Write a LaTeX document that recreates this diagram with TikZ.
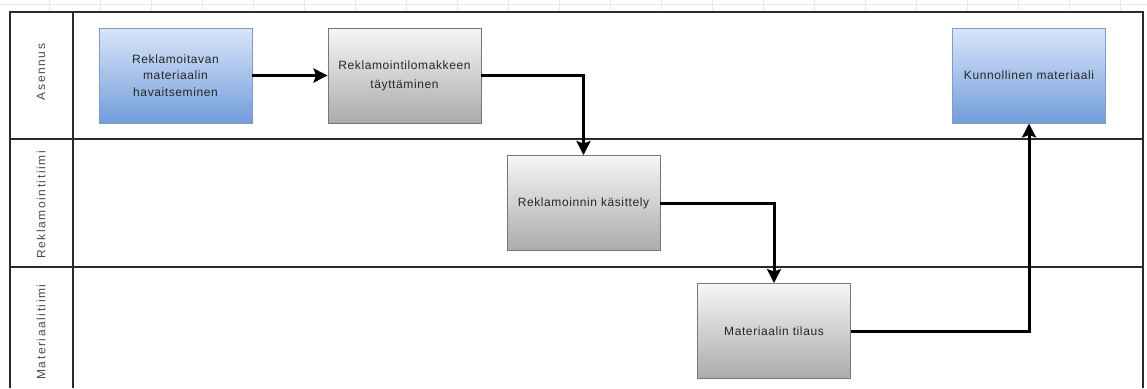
\documentclass[tikz,border=0pt]{standalone}
\usepackage{fontspec}
\setmainfont{Liberation Sans}
\newfontfamily\boxfont[LetterSpace=5]{Liberation Sans}
\newfontfamily\lanefont[LetterSpace=13]{Liberation Sans}
\usetikzlibrary{arrows.meta}
\definecolor{txt}{HTML}{262626}
\definecolor{lanetxt}{HTML}{4A4A4A}
\definecolor{bluetop}{HTML}{D8E6F9}
\definecolor{bluebot}{HTML}{739DDA}
\definecolor{blueedge}{HTML}{7F9CC6}
\definecolor{graytop}{HTML}{F6F6F6}
\definecolor{graybot}{HTML}{ABABAB}
\definecolor{grayedge}{HTML}{777777}
\definecolor{framec}{HTML}{2A2A2A}
\tikzset{
  procbox/.style={rectangle, inner sep=0pt, minimum width=153pt, minimum height=95pt,
    align=center, text=txt, font=\boxfont\fontsize{12}{16.5}\selectfont, line width=0.9pt},
  bluebox/.style={procbox, draw=blueedge, top color=bluetop, bottom color=bluebot},
  graybox/.style={procbox, draw=grayedge, top color=graytop, bottom color=graybot},
  flow/.style={line width=3pt, black, -{Stealth[length=14pt,width=14pt,inset=2.5pt]}},
  lanelabel/.style={rotate=90, text=lanetxt, font=\lanefont\fontsize{12}{14}\selectfont},
  laneline/.style={line width=1.3pt, framec},
  ruler/.style={line width=0.5pt, black!8}
}
\begin{document}
\begin{tikzpicture}[x=1pt,y=-1pt]
\useasboundingbox (0,0) rectangle (1147,388);
% faint ruler at top
\draw[ruler] (0,4) -- (1147,4);
\foreach \i in {0,...,22} {\draw[ruler] ({49+51*\i},0) -- ({49+51*\i},11);}
% lanes frame
\draw[laneline] (10,388) -- (10,12) -- (1143,12) -- (1143,388);
\draw[laneline] (73,12) -- (73,388);
\draw[laneline] (10,139) -- (1143,139);
\draw[laneline] (10,267) -- (1143,267);
% lane labels
\node[lanelabel] (l1) at (41,72) {Asennus};
\node[lanelabel] (l2) at (41,205) {Reklamointitiimi};
\node[lanelabel] (l3) at (41,332) {Materiaalitiimi};
% process boxes
\node[bluebox] (b1) at (175.5,75.5) {Reklamoitavan\\materiaalin\\havaitseminen};
\node[graybox, font=\boxfont\fontsize{12}{19}\selectfont] (b2) at (404.5,75.5) {Reklamointilomakkeen\\täyttäminen};
\node[graybox] (b3) at (583.5,203) {Reklamoinnin käsittely};
\node[graybox] (b4) at (774,331) {Materiaalin tilaus};
\node[bluebox] (b5) at (1029,75.5) {Kunnollinen materiaali};
% connectors
\draw[flow] (b1) -- (b2);
\draw[flow] (b2.east) -| (b3.north);
\draw[flow] (b3.east) -| (b4.north);
\draw[flow] (b4.east) -| (b5.south);
\end{tikzpicture}
\end{document}
